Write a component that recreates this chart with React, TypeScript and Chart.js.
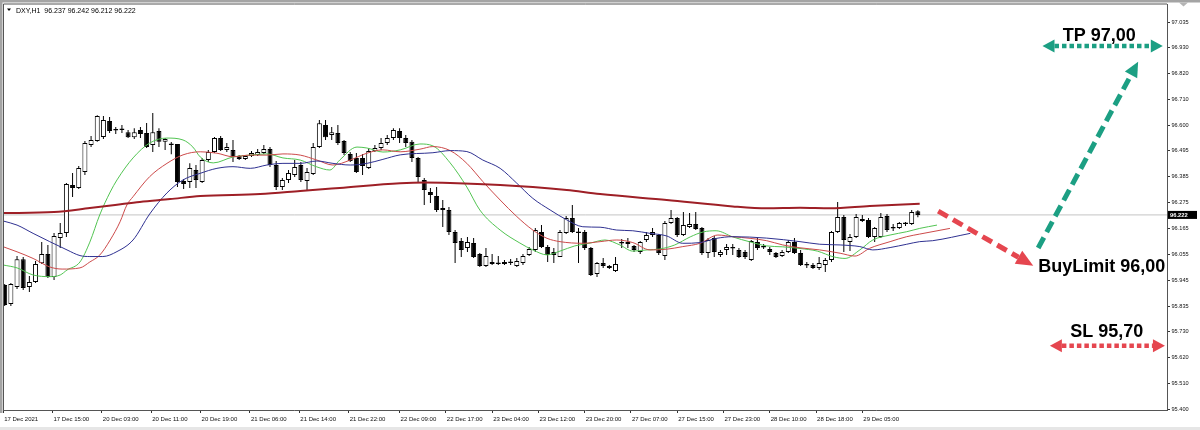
import React, { useEffect, useRef } from 'react';
import { Chart, registerables } from 'chart.js';
Chart.register(...registerables);

// ---------- DATA (DXY, H1) ----------
const opens = [95.926,95.845,95.917,96.035,95.917,95.938,96.018,96.057,95.959,96.124,96.146,96.349,96.336,96.403,96.518,96.535,96.552,96.619,96.579,96.581,
96.572,96.551,96.581,96.568,96.518,96.577,96.531,96.522,96.522,96.365,96.361,96.412,96.361,96.454,96.488,96.547,96.497,96.497,96.471,96.458,
96.471,96.475,96.484,96.501,96.433,96.340,96.370,96.391,96.433,96.365,96.395,96.509,96.602,96.560,96.568,96.535,96.480,96.463,96.463,96.420,
96.492,96.505,96.526,96.547,96.577,96.547,96.531,96.463,96.370,96.319,96.302,96.243,96.243,96.150,96.112,96.082,96.103,96.057,96.006,96.023,
96.019,96.014,96.019,96.006,96.019,96.053,96.074,96.150,96.086,96.065,96.044,96.146,96.209,96.150,96.150,96.082,95.972,96.019,96.006,95.985,
96.103,96.107,96.091,96.065,96.116,96.137,96.137,96.048,96.188,96.209,96.137,96.171,96.184,96.167,96.061,96.124,96.053,96.074,96.082,96.074,
96.065,96.031,96.107,96.086,96.078,96.061,96.048,96.065,96.107,96.061,96.010,96.010,95.998,96.010,96.031,96.150,96.213,96.107,96.129,96.205,
96.201,96.129,96.129,96.217,96.167,96.167,96.184,96.184,96.237];
const highs = [95.930,95.934,96.048,96.044,95.964,96.027,96.107,96.095,96.146,96.188,96.357,96.399,96.429,96.535,96.556,96.644,96.640,96.636,96.594,96.602,
96.581,96.589,96.594,96.611,96.653,96.589,96.547,96.530,96.522,96.374,96.441,96.433,96.463,96.497,96.552,96.556,96.526,96.539,96.475,96.475,
96.492,96.501,96.518,96.509,96.450,96.378,96.412,96.454,96.446,96.420,96.526,96.623,96.623,96.594,96.602,96.539,96.488,96.484,96.480,96.505,
96.518,96.547,96.560,96.589,96.589,96.560,96.539,96.467,96.378,96.336,96.340,96.285,96.255,96.158,96.124,96.129,96.124,96.061,96.082,96.057,
96.048,96.031,96.036,96.040,96.057,96.086,96.167,96.179,96.095,96.082,96.158,96.217,96.264,96.167,96.158,96.086,96.023,96.040,96.010,96.044,
96.120,96.124,96.095,96.112,96.150,96.167,96.141,96.196,96.243,96.213,96.234,96.230,96.234,96.171,96.124,96.133,96.074,96.099,96.099,96.082,
96.074,96.116,96.124,96.099,96.086,96.065,96.074,96.116,96.124,96.074,96.023,96.019,96.044,96.040,96.154,96.277,96.222,96.141,96.226,96.222,
96.209,96.171,96.230,96.226,96.184,96.192,96.192,96.243,96.242];
const lows = [95.837,95.837,95.909,95.905,95.896,95.934,96.014,95.955,95.947,96.082,96.129,96.298,96.332,96.391,96.509,96.531,96.543,96.568,96.564,96.568,
96.547,96.543,96.547,96.505,96.488,96.509,96.497,96.479,96.340,96.332,96.336,96.336,96.357,96.446,96.484,96.492,96.488,96.446,96.454,96.454,
96.467,96.471,96.480,96.425,96.327,96.327,96.357,96.382,96.361,96.327,96.391,96.505,96.539,96.539,96.518,96.475,96.446,96.399,96.391,96.416,
96.488,96.497,96.518,96.539,96.526,96.509,96.446,96.357,96.264,96.272,96.234,96.171,96.137,96.019,96.044,96.065,96.040,96.002,96.002,96.010,
96.010,96.010,96.010,96.002,96.010,96.048,96.065,96.082,96.023,96.019,96.044,96.141,96.146,96.019,96.074,95.964,95.959,95.998,95.993,95.981,
96.082,96.082,96.065,96.057,96.107,96.129,96.053,96.031,96.184,96.129,96.133,96.167,96.158,96.053,96.040,96.044,96.044,96.053,96.053,96.040,
96.036,96.027,96.074,96.078,96.053,96.040,96.044,96.061,96.057,96.006,95.998,95.993,95.989,95.981,96.023,96.146,96.065,96.069,96.124,96.192,
96.124,96.107,96.124,96.150,96.154,96.162,96.175,96.179,96.212];
const closes = [95.841,95.930,96.035,95.913,95.938,96.014,96.057,95.959,96.133,96.146,96.353,96.336,96.420,96.526,96.539,96.640,96.623,96.577,96.583,96.585,
96.551,96.572,96.564,96.509,96.572,96.531,96.543,96.518,96.361,96.353,96.420,96.370,96.454,96.488,96.547,96.497,96.509,96.467,96.458,96.471,
96.484,96.488,96.501,96.433,96.340,96.370,96.399,96.425,96.370,96.403,96.509,96.610,96.551,96.572,96.526,96.484,96.450,96.403,96.429,96.492,
96.505,96.526,96.547,96.581,96.547,96.526,96.463,96.382,96.327,96.306,96.243,96.251,96.150,96.103,96.074,96.107,96.044,96.006,96.048,96.014,
96.014,96.023,96.023,96.027,96.048,96.078,96.158,96.086,96.053,96.053,96.150,96.209,96.150,96.146,96.082,95.968,96.019,96.006,95.998,96.014,
96.101,96.099,96.074,96.107,96.137,96.150,96.061,96.188,96.209,96.137,96.179,96.184,96.162,96.061,96.116,96.065,96.065,96.086,96.080,96.044,
96.044,96.112,96.082,96.084,96.065,96.044,96.065,96.107,96.061,96.010,96.008,95.998,96.019,96.031,96.150,96.213,96.116,96.129,96.213,96.196,
96.129,96.167,96.213,96.158,96.165,96.188,96.186,96.234,96.222];

// Alligator lips (green), read at bar positions
const lipsIdx = [-0.2,2.0,4.6,7.3,9.0,10.1,12.2,13.8,15.4,17.1,18.2,20.8,23.5,26.3,28.9,30.5,31.7,33.8,37.0,39.8,42.5,45.1,47.9,50.6,52.7,54.3,57.1,58.7,61.3,64.1,67.3,69.4,72.2,74.9,77.0,80.3,83.5,85.6,87.9,90.0,92.4,94.9,97.3,99.7,101.8,104.1,106.2,108.6,111.1,113.2,115.3,118.0,120.8,123.5,126.1,128.9,131.7,134.3,136.2,138.6,140.7,143.5,146.2,148.3,151.1];
const lipsVal = [96.010,95.998,95.968,95.961,95.968,95.989,96.023,96.107,96.222,96.319,96.370,96.463,96.526,96.547,96.539,96.509,96.467,96.442,96.467,96.475,96.480,96.463,96.454,96.425,96.412,96.454,96.509,96.505,96.488,96.497,96.522,96.514,96.442,96.340,96.243,96.158,96.103,96.074,96.053,96.069,96.091,96.103,96.116,96.095,96.069,96.074,96.078,96.095,96.129,96.150,96.155,96.129,96.108,96.091,96.087,96.080,96.069,96.045,96.038,96.074,96.116,96.137,96.151,96.165,96.179];
// Alligator teeth (red)
const teethIdx = [-0.2,2.0,4.6,7.3,9.3,12.2,13.8,15.4,17.1,18.7,19.8,20.8,23.5,26.3,28.9,31.7,34.4,37.0,39.8,42.5,45.1,47.9,50.6,53.2,56.0,58.7,61.3,64.1,67.3,69.4,72.2,74.9,77.5,80.3,83.0,85.6,87.9,90.0,93.7,96.5,99.2,101.8,104.6,107.3,109.9,112.7,115.6,118.0,120.8,123.5,126.1,128.9,132.1,135.4,137.8,140.2,143.5,146.2,148.3,153.2];
const teethVal = [96.087,96.066,96.038,96.002,95.993,95.998,96.023,96.052,96.116,96.193,96.264,96.299,96.384,96.440,96.476,96.489,96.483,96.468,96.475,96.475,96.480,96.475,96.454,96.433,96.454,96.483,96.497,96.489,96.500,96.511,96.494,96.440,96.363,96.285,96.215,96.158,96.123,96.109,96.102,96.109,96.116,96.105,96.074,96.077,96.088,96.102,96.137,96.130,96.123,96.113,96.095,96.083,96.074,96.060,96.048,96.081,96.109,96.130,96.141,96.165];
// Alligator jaw (blue)
const jawIdx = [-0.2,2.0,4.6,7.3,10.1,12.2,13.8,15.9,18.2,20.8,23.5,26.3,28.9,31.7,34.4,37.0,39.8,42.5,45.1,47.9,50.6,53.2,56.0,58.7,61.3,64.1,69.4,72.2,74.9,77.5,80.3,83.0,85.6,88.4,91.1,93.7,96.5,99.2,101.8,104.6,107.3,109.9,112.7,115.4,118.0,123.5,128.9,132.1,135.4,138.6,140.7,143.5,146.2,148.3,150.4,156.5];
const jawVal = [96.196,96.179,96.144,96.109,96.074,96.050,96.046,96.046,96.067,96.116,96.226,96.315,96.370,96.398,96.419,96.426,96.419,96.433,96.440,96.440,96.450,96.440,96.433,96.440,96.457,96.476,96.485,96.494,96.490,96.454,96.419,96.356,96.292,96.243,96.201,96.172,96.170,96.158,96.155,96.144,96.133,96.102,96.105,96.123,96.130,96.124,96.109,96.098,96.095,96.088,96.074,96.084,96.098,96.109,96.113,96.144];
// Slow moving average (dark red)
const maIdx = [-0.2,8.0,13.8,17.9,21.9,26.8,31.7,41.4,47.9,54.3,64.1,68.1,72.2,80.3,85.6,91.1,96.5,107.3,118.0,123.5,128.9,133.8,140.2,148.3];
const maVal = [96.230,96.234,96.251,96.264,96.277,96.289,96.302,96.310,96.323,96.336,96.356,96.359,96.357,96.349,96.340,96.327,96.310,96.285,96.258,96.250,96.252,96.250,96.260,96.269];

// Axis ticks
const xTickPos = [-0.25,7.75,15.75,23.75,31.75,39.75,47.75,55.75,64,71.5,79,86.5,94,101.5,109,116.5,124,131.5,139];
const xTickLabels = ['17 Dec 2021','17 Dec 15:00','20 Dec 03:00','20 Dec 11:00','20 Dec 19:00','21 Dec 06:00','21 Dec 14:00','21 Dec 22:00','22 Dec 09:00','22 Dec 17:00','23 Dec 04:00','23 Dec 12:00','23 Dec 20:00','27 Dec 07:00','27 Dec 15:00','27 Dec 23:00','28 Dec 10:00','28 Dec 18:00','29 Dec 05:00'];
const yTickVals = [95.400,95.510,95.620,95.730,95.835,95.945,96.055,96.165,96.275,96.385,96.495,96.600,96.710,96.820,96.930,97.035];
const yTickLabels = ['95.400','95.510','95.620','95.730','95.835','95.945','96.055','96.165','96.275','96.385','96.495','96.600','96.710','96.820','96.930','97.035'];

const symbolTitle = 'DXY,H1';

// Trade plan annotations (in bar-index / price coordinates)
const entryArrow = { from: [151.3, 96.238], to: [166.7, 96.007] };
const targetArrow = { from: [167.5, 96.082], to: [183.7, 96.870] };
const tpLevel = { price: 96.936, from: 168.2, to: 187.7, text: 'TP 97,00', textX: 177.4, textY: 96.959 };
const slLevel = { price: 95.669, from: 169.4, to: 188.05, text: 'SL 95,70', textX: 178.6, textY: 95.705 };
const entryLabel = { text: 'BuyLimit 96,00', x: 167.5, y: 95.982 };

const TEAL = '#1c9f83';
const RED = '#e5464f';
const FONT = '"Liberation Sans", Arial, sans-serif';

function drawArrow(ctx: CanvasRenderingContext2D, x0: number, y0: number, x1: number, y1: number,
  color: string, width: number, dash: number[], headLen: number, headW: number, both: boolean) {
  const dx = x1 - x0, dy = y1 - y0;
  const len = Math.hypot(dx, dy);
  const ux = dx / len, uy = dy / len;
  const sx = both ? x0 + ux * headLen : x0;
  const sy = both ? y0 + uy * headLen : y0;
  const ex = x1 - ux * headLen, ey = y1 - uy * headLen;
  ctx.save();
  ctx.strokeStyle = color;
  ctx.fillStyle = color;
  ctx.lineWidth = width;
  ctx.lineCap = 'butt';
  ctx.setLineDash(dash);
  ctx.beginPath();
  ctx.moveTo(sx, sy);
  ctx.lineTo(ex, ey);
  ctx.stroke();
  ctx.setLineDash([]);
  const head = (tx: number, ty: number, dirx: number, diry: number) => {
    const bx = tx - dirx * headLen, by = ty - diry * headLen;
    const qx = -diry, qy = dirx;
    ctx.beginPath();
    ctx.moveTo(tx, ty);
    ctx.lineTo(bx + qx * headW / 2, by + qy * headW / 2);
    ctx.lineTo(bx - qx * headW / 2, by - qy * headW / 2);
    ctx.closePath();
    ctx.fill();
  };
  head(x1, y1, ux, uy);
  if (both) head(x0, y0, -ux, -uy);
  ctx.restore();
}

const fmt = (v: number) => v.toFixed(3);

export default function App() {
  const ref = useRef<HTMLCanvasElement>(null);

  useEffect(() => {
    document.body.style.margin = '0';
    const canvas = ref.current;
    if (!canvas) return;
    const idx = closes.map((_, i) => i);
    const bodies = idx.map(i => ({ x: i, y: [opens[i], closes[i]] }));
    const wicks = idx.map(i => ({ x: i, y: [lows[i], highs[i]] }));
    const bodyColors = idx.map(i => (closes[i] >= opens[i] ? '#ffffff' : '#000000'));
    const pts = (xs: number[], ys: number[]) => xs.map((x, k) => ({ x, y: ys[k] }));
    const last = closes.length - 1;

    const decor = {
      id: 'decor',
      beforeDraw(chart: any) {
        const ctx = chart.ctx as CanvasRenderingContext2D;
        ctx.save();
        ctx.fillStyle = '#ffffff';
        ctx.fillRect(0, 0, chart.width, chart.height);
        ctx.fillStyle = '#a4a4a4';
        ctx.fillRect(0, 0, chart.width, 2.5);
        ctx.fillRect(0, 0, 2.5, 413);
        ctx.fillStyle = '#e6e6e6';
        ctx.fillRect(0, 427, chart.width, 3);
        ctx.fillStyle = '#b4b4b4';
        ctx.beginPath();
        ctx.moveTo(1179, 2.5);
        ctx.lineTo(1188, 2.5);
        ctx.lineTo(1183.5, 6.5);
        ctx.closePath();
        ctx.fill();
        ctx.restore();
      },
      beforeDatasetsDraw(chart: any) {
        const ctx = chart.ctx as CanvasRenderingContext2D;
        const { left, right } = chart.chartArea;
        const y = chart.scales.y.getPixelForValue(closes[last]);
        ctx.save();
        ctx.strokeStyle = '#c4c4c4';
        ctx.lineWidth = 1;
        ctx.beginPath();
        ctx.moveTo(left, y);
        ctx.lineTo(right, y);
        ctx.stroke();
        ctx.restore();
      },
      afterDatasetsDraw(chart: any) {
        const ctx = chart.ctx as CanvasRenderingContext2D;
        const xs = chart.scales.x, ys = chart.scales.y;
        const X = (v: number) => xs.getPixelForValue(v);
        const Y = (v: number) => ys.getPixelForValue(v);
        drawArrow(ctx, X(entryArrow.from[0]), Y(entryArrow.from[1]), X(entryArrow.to[0]), Y(entryArrow.to[1]), RED, 5, [11, 6], 17, 15, false);
        drawArrow(ctx, X(targetArrow.from[0]), Y(targetArrow.from[1]), X(targetArrow.to[0]), Y(targetArrow.to[1]), TEAL, 5, [12, 6], 15, 14, false);
        drawArrow(ctx, X(tpLevel.from), Y(tpLevel.price), X(tpLevel.to), Y(tpLevel.price), TEAL, 4.5, [4.5, 3], 12, 13, true);
        drawArrow(ctx, X(slLevel.from), Y(slLevel.price), X(slLevel.to), Y(slLevel.price), RED, 4.5, [4.5, 3], 12, 13, true);
        ctx.save();
        ctx.fillStyle = '#000';
        ctx.font = `bold 18px ${FONT}`;
        ctx.textBaseline = 'alphabetic';
        ctx.textAlign = 'center';
        ctx.fillText(tpLevel.text, X(tpLevel.textX), Y(tpLevel.textY));
        ctx.fillText(slLevel.text, X(slLevel.textX), Y(slLevel.textY));
        ctx.textAlign = 'left';
        ctx.fillText(entryLabel.text, X(entryLabel.x), Y(entryLabel.y));
        ctx.restore();
      },
      afterDraw(chart: any) {
        const ctx = chart.ctx as CanvasRenderingContext2D;
        const { left, top, right, bottom } = chart.chartArea;
        ctx.save();
        ctx.strokeStyle = '#555';
        ctx.lineWidth = 1;
        ctx.beginPath();
        ctx.moveTo(left, bottom);
        ctx.lineTo(left, top);
        ctx.lineTo(right, top);
        ctx.stroke();
        // current price tag
        const y = chart.scales.y.getPixelForValue(closes[last]);
        ctx.fillStyle = '#000';
        ctx.fillRect(right + 1, y - 4, 29, 8);
        ctx.fillStyle = '#fff';
        ctx.font = `bold 5.8px ${FONT}`;
        ctx.textBaseline = 'middle';
        ctx.textAlign = 'left';
        ctx.fillText(fmt(closes[last]), right + 3, y + 0.3);
        // header
        ctx.fillStyle = '#000';
        ctx.beginPath();
        ctx.moveTo(7, 8.5);
        ctx.lineTo(11, 8.5);
        ctx.lineTo(9, 11);
        ctx.closePath();
        ctx.fill();
        ctx.font = `7px ${FONT}`;
        ctx.textBaseline = 'alphabetic';
        ctx.fillText(`${symbolTitle}  ${fmt(opens[last])} ${fmt(highs[last])} ${fmt(lows[last])} ${fmt(closes[last])}`, 16, 12.5);
        ctx.restore();
      },
    };

    const chart = new Chart(canvas, {
      type: 'bar',
      data: {
        datasets: [
          { type: 'line', data: pts(maIdx, maVal), borderColor: '#9e1f26', borderWidth: 2, pointRadius: 0, cubicInterpolationMode: 'monotone', fill: false, order: 1 } as any,
          { type: 'line', data: pts(jawIdx, jawVal), borderColor: '#2f3191', borderWidth: 1, pointRadius: 0, cubicInterpolationMode: 'monotone', fill: false, order: 1 } as any,
          { type: 'line', data: pts(teethIdx, teethVal), borderColor: '#cc4a4a', borderWidth: 1, pointRadius: 0, cubicInterpolationMode: 'monotone', fill: false, order: 1 } as any,
          { type: 'line', data: pts(lipsIdx, lipsVal), borderColor: '#52c452', borderWidth: 1, pointRadius: 0, cubicInterpolationMode: 'monotone', fill: false, order: 1 } as any,
          { type: 'bar', data: bodies, backgroundColor: bodyColors, borderColor: '#000', borderWidth: 1, borderSkipped: false, barThickness: 5, minBarLength: 1.5, grouped: false, inflateAmount: 0, order: 2 } as any,
          { type: 'bar', data: wicks, backgroundColor: '#000', borderWidth: 0, barThickness: 1, grouped: false, inflateAmount: 0, order: 3 } as any,
        ],
      },
      options: {
        responsive: false,
        maintainAspectRatio: false,
        animation: false,
        devicePixelRatio: 1,
        events: [],
        layout: { padding: { left: 3.5, top: 4, right: 0, bottom: 0 } },
        plugins: { legend: { display: false }, tooltip: { enabled: false } },
        scales: {
          x: {
            type: 'linear',
            min: -0.194,
            max: 188.38,
            offset: false,
            position: 'bottom',
            grid: { display: true, drawOnChartArea: false, drawTicks: true, tickLength: 3, tickColor: '#333', offset: false },
            border: { display: true, color: '#555', width: 1 },
            ticks: {
              autoSkip: false,
              maxRotation: 0,
              minRotation: 0,
              align: 'start',
              labelOffset: 1,
              padding: 3,
              color: '#111',
              font: { family: FONT, size: 6 },
              callback: (_v: any, i: number) => xTickLabels[i],
            },
            afterBuildTicks: (s: any) => { s.ticks = xTickPos.map(v => ({ value: v })); },
            afterFit: (s: any) => { s.height = 20; s.paddingLeft = 0; s.paddingRight = 0; },
          } as any,
          y: {
            type: 'linear',
            position: 'right',
            min: 95.397,
            max: 97.114,
            beginAtZero: false,
            grid: { display: true, drawOnChartArea: false, drawTicks: true, tickLength: 3, tickColor: '#333' },
            border: { display: true, color: '#555', width: 1 },
            ticks: {
              autoSkip: false,
              padding: 1.5,
              color: '#111',
              font: { family: FONT, size: 5.6 },
              callback: (_v: any, i: number) => yTickLabels[i],
            },
            afterBuildTicks: (s: any) => { s.ticks = yTickVals.map(v => ({ value: v })); },
            afterFit: (s: any) => { s.width = 33; s.paddingTop = 0; s.paddingBottom = 0; },
          } as any,
        },
      },
      plugins: [decor as any],
    });
    return () => chart.destroy();
  }, []);

  return (
    <div style={{ position: 'absolute', left: 0, top: 0, width: 1200, height: 430 }}>
      <canvas ref={ref} width={1200} height={430} style={{ display: 'block', width: 1200, height: 430 }} />
    </div>
  );
}
